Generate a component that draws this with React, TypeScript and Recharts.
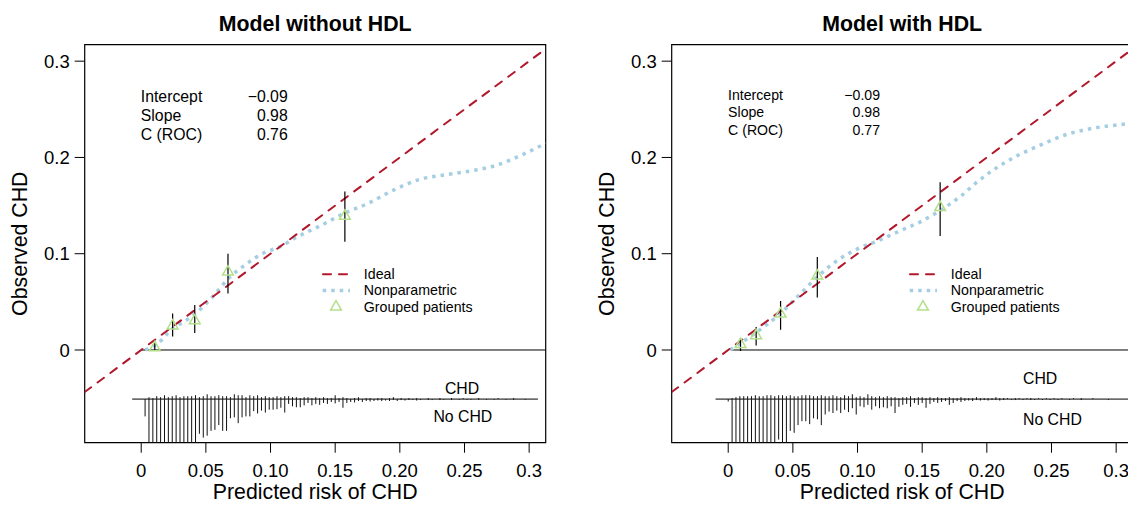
import React from 'react';
import { ComposedChart, XAxis, YAxis, Line, Scatter, ReferenceLine, ReferenceArea } from 'recharts';

const FONT = '"Liberation Sans", Arial, Helvetica, sans-serif';
const RED = '#b2182b';
const BLUE = '#a6cee3';
const GREEN = '#b2df8a';

const X_DOMAIN: [number, number] = [-0.0437, 0.3128];
const Y_DOMAIN: [number, number] = [-0.0963, 0.3171];
const xTicks = [0, 0.05, 0.1, 0.15, 0.2, 0.25, 0.3];
const xTickLabels = ['0', '0.05', '0.10', '0.15', '0.20', '0.25', '0.3'];
const yTicks = [0, 0.1, 0.2, 0.3];
const yTickLabels = ['0', '0.1', '0.2', '0.3'];

const idealX = [-0.0437, 0.3128];
const idealY = [-0.0437, 0.3128];

// Left panel: model without HDL
const leftNpX = [0.003, 0.013, 0.024, 0.035, 0.043, 0.055, 0.068, 0.08, 0.095, 0.107, 0.12, 0.14, 0.157, 0.175, 0.195, 0.215, 0.235, 0.255, 0.275, 0.295, 0.3128];
const leftNpY = [0.0, 0.007, 0.022, 0.031, 0.039, 0.055, 0.075, 0.088, 0.101, 0.107, 0.117, 0.13, 0.142, 0.152, 0.166, 0.177, 0.182, 0.186, 0.192, 0.203, 0.2147];
const leftGroupX = [0.0105, 0.0243, 0.0414, 0.0671, 0.1575];
const leftGroupY = [0.003, 0.0256, 0.0309, 0.0815, 0.1396];
const leftGroupLo = [-0.001, 0.014, 0.0176, 0.0588, 0.1123];
const leftGroupHi = [0.008, 0.0378, 0.0466, 0.1, 0.1647];

// Right panel: model with HDL
const rightNpX = [0.0015, 0.0105, 0.0225, 0.0405, 0.0555, 0.069, 0.0855, 0.1, 0.115, 0.135, 0.15, 0.164, 0.18, 0.193, 0.205, 0.221, 0.24, 0.262, 0.285, 0.307, 0.3128];
const rightNpY = [0.0, 0.008, 0.019, 0.038, 0.058, 0.076, 0.094, 0.105, 0.113, 0.125, 0.134, 0.145, 0.16, 0.175, 0.187, 0.2, 0.212, 0.224, 0.231, 0.2348, 0.236];
const rightGroupX = [0.0095, 0.0216, 0.0405, 0.0689, 0.1639];
const rightGroupY = [0.0064, 0.0155, 0.0379, 0.0774, 0.1486];
const rightGroupLo = [-0.001, 0.0047, 0.021, 0.0546, 0.1185];
const rightGroupHi = [0.012, 0.0239, 0.051, 0.0966, 0.1743];

// Spike histogram bins and heights
const spikeBins = [
  0, 0.003, 0.006, 0.009, 0.012, 0.015, 0.018, 0.021, 0.024, 0.027,
  0.03, 0.033, 0.036, 0.039, 0.042, 0.045, 0.048, 0.051, 0.054, 0.057,
  0.06, 0.063, 0.066, 0.069, 0.072, 0.075, 0.078, 0.081, 0.084, 0.087,
  0.09, 0.093, 0.096, 0.099, 0.102, 0.105, 0.108, 0.111, 0.114, 0.117,
  0.12, 0.123, 0.126, 0.129, 0.132, 0.135, 0.138, 0.141, 0.144, 0.147,
  0.15, 0.153, 0.156, 0.159, 0.162, 0.165, 0.168, 0.171, 0.174, 0.177,
  0.18, 0.183, 0.186, 0.189, 0.192, 0.195, 0.198, 0.201, 0.204, 0.207,
  0.21, 0.213, 0.216, 0.219, 0.222, 0.225, 0.228, 0.231, 0.234, 0.237,
  0.24, 0.243, 0.246, 0.249, 0.252, 0.255, 0.258, 0.261, 0.264, 0.267,
  0.27, 0.273, 0.276, 0.279, 0.282, 0.285, 0.288, 0.291, 0.294, 0.297,
  0.3,
];
const leftNoChd = [
  0, 0.018, 0.085, 0.11, 0.12, 0.13, 0.12, 0.125, 0.11, 0.105,
  0.1, 0.09, 0.085, 0.075, 0.06, 0.036, 0.04, 0.038, 0.033, 0.032,
  0.027, 0.033, 0.033, 0.02, 0.019, 0.025, 0.019, 0.018, 0.018, 0.0125,
  0.015, 0.012, 0.014, 0.011, 0.011, 0.0105, 0.009, 0.014, 0.005, 0.0075,
  0.0085, 0.0085, 0.0065, 0.004, 0.0065, 0.005, 0.006, 0.004, 0.005, 0.003,
  0.0045, 0.003, 0.009, 0.004, 0.003, 0.0035, 0.002, 0.003, 0.002, 0.0025,
  0.002, 0.0015, 0.002, 0.0015, 0.002, 0.001, 0.002, 0.001, 0.0015, 0.001,
  0.001, 0.0015, 0.001, 0, 0.001, 0.001, 0, 0.001, 0.0008, 0,
  0.001, 0, 0.0008, 0, 0.0008, 0.0008, 0, 0.0008, 0, 0.0008,
  0, 0.0008, 0, 0, 0.0008, 0, 0.0008, 0, 0, 0.0008,
  0,
];
const leftChd = [
  0, 0, 0.002, 0.001, 0.003, 0.002, 0.004, 0.002, 0.003, 0.004,
  0.002, 0.003, 0.003, 0.003, 0.004, 0.002, 0.003, 0.005, 0.003, 0.003,
  0.004, 0.003, 0.003, 0.002, 0.005, 0.004, 0.004, 0.002, 0.004, 0.003,
  0.004, 0.002, 0.003, 0.002, 0.002, 0.003, 0.002, 0.003, 0.003, 0.002,
  0.002, 0.001, 0.002, 0.002, 0.001, 0.002, 0.001, 0.002, 0.001, 0.001,
  0.004, 0.001, 0.002, 0.001, 0, 0.001, 0.002, 0, 0.001, 0.001,
  0, 0.001, 0.001, 0, 0.001, 0.002, 0, 0.001, 0, 0.001,
  0, 0.001, 0, 0, 0.001, 0, 0, 0.001, 0, 0,
  0.001, 0, 0, 0.001, 0, 0, 0, 0.001, 0, 0,
  0, 0, 0.001, 0, 0, 0, 0.001, 0, 0, 0,
  0,
];
const rightNoChd = [
  0.0025, 0.09, 0.11, 0.12, 0.13, 0.12, 0.12, 0.11, 0.1, 0.1,
  0.09, 0.085, 0.07, 0.042, 0.06, 0.05, 0.033, 0.035, 0.027, 0.023,
  0.023, 0.026, 0.02, 0.021, 0.027, 0.016, 0.013, 0.0145, 0.012, 0.0145,
  0.011, 0.0135, 0.0095, 0.016, 0.0075, 0.0085, 0.006, 0.011, 0.0075, 0.0095,
  0.0085, 0.0095, 0.0075, 0.0145, 0.008, 0.006, 0.005, 0.008, 0.004, 0.006,
  0.004, 0.009, 0.005, 0.003, 0.004, 0.003, 0.002, 0.006, 0.004, 0.002,
  0.003, 0.002, 0.0015, 0.002, 0.001, 0.0015, 0.001, 0.0015, 0.001, 0.001,
  0.0015, 0.001, 0, 0.001, 0.001, 0, 0.001, 0, 0.001, 0.001,
  0, 0.001, 0, 0.001, 0, 0.001, 0, 0, 0.001, 0,
  0, 0.001, 0, 0, 0, 0, 0, 0, 0.001, 0,
  0,
];
const rightChd = [
  0, 0.001, 0.002, 0.003, 0.003, 0.003, 0.003, 0.004, 0.003, 0.003,
  0.004, 0.004, 0.003, 0.004, 0.004, 0.003, 0.004, 0.003, 0.003, 0.004,
  0.004, 0.004, 0.003, 0.003, 0.004, 0.003, 0.003, 0.004, 0.003, 0.002,
  0.004, 0.003, 0.005, 0.002, 0.003, 0.002, 0.005, 0.003, 0.002, 0.003,
  0.002, 0.003, 0.002, 0.002, 0.001, 0.002, 0.002, 0.003, 0.001, 0.002,
  0.002, 0.001, 0.002, 0.001, 0.002, 0.001, 0.001, 0.002, 0.001, 0.001,
  0.002, 0.001, 0.001, 0.001, 0.002, 0.001, 0.001, 0.001, 0.001, 0.002,
  0.001, 0.001, 0.001, 0, 0.001, 0.001, 0, 0.001, 0.001, 0,
  0.001, 0, 0.001, 0, 0.001, 0, 0.001, 0, 0, 0.001,
  0, 0.001, 0, 0, 0.001, 0, 0, 0, 0, 0,
  0,
];

const SPIKE_BASE = -0.051;
const leftBaseline = [-0.007, 0.3068];
const rightBaseline = [-0.0098, 0.31];
const leftZeroStart = 0.0;
const rightZeroStart = 0.002;

const statLabels = ['Intercept', 'Slope', 'C (ROC)'];
const leftStats = ['\u22120.09', '0.98', '0.76'];
const rightStats = ['\u22120.09', '0.98', '0.77'];
const legendLabels = ['Ideal', 'Nonparametric', 'Grouped patients'];

const zip = (xs: number[], ys: number[]) => xs.map((x, i) => ({ x, y: ys[i] }));

const Tri = (p: any) => {
  const { cx, cy } = p;
  if (cx == null || cy == null) return null;
  return (
    <polygon
      points={`${cx},${cy - 5.8} ${cx - 5.4},${cy + 3.6} ${cx + 5.4},${cy + 3.6}`}
      fill="none"
      stroke={GREEN}
      strokeWidth={1.5}
    />
  );
};

type PanelProps = {
  left: number;
  title: string;
  npX: number[];
  npY: number[];
  gX: number[];
  gY: number[];
  gLo: number[];
  gHi: number[];
  noChd: number[];
  chd: number[];
  baseline: number[];
  zeroStart: number;
  stats: string[];
  statFont: number;
  statLabelX: number;
  statValueX: number;
  statY: number[];
  chdLabel: { x: number; y: number; anchor: string };
  noChdLabel: { x: number; y: number; anchor: string };
};

const W = 587;
const H = 505;
const PLOT_L = 84.7;
const PLOT_R = 545.7;
const PLOT_T = 44.7;
const PLOT_B = 442.7;
const CX = (PLOT_L + PLOT_R) / 2;
const CY = (PLOT_T + PLOT_B) / 2;

function Panel(props: PanelProps) {
  const npData = zip(props.npX, props.npY);
  const idealData = zip(idealX, idealY);
  const groupData = zip(props.gX, props.gY);
  const legendRows = [274.2, 290.4, 306.5];
  return (
    <div style={{ position: 'absolute', left: props.left, top: 0, width: W, height: H }}>
      <ComposedChart width={W} height={H} margin={{ top: PLOT_T, right: W - PLOT_R, bottom: 0, left: 0 }}>
        <XAxis
          dataKey="x"
          type="number"
          domain={X_DOMAIN}
          allowDataOverflow
          ticks={xTicks}
          interval={0}
          tickFormatter={(v: number) => xTickLabels[xTicks.indexOf(v)] ?? String(v)}
          tickSize={10}
          tickMargin={11}
          axisLine={false}
          tickLine={{ stroke: '#000', strokeWidth: 1 }}
          tick={{ fill: '#000', fontSize: 18.5, fontFamily: FONT }}
          height={H - PLOT_B}
        />
        <YAxis
          dataKey="y"
          type="number"
          domain={Y_DOMAIN}
          allowDataOverflow
          ticks={yTicks}
          interval={0}
          tickFormatter={(v: number) => yTickLabels[yTicks.indexOf(v)] ?? String(v)}
          tickSize={10}
          tickMargin={5}
          axisLine={false}
          tickLine={{ stroke: '#000', strokeWidth: 1 }}
          tick={{ fill: '#000', fontSize: 18.5, fontFamily: FONT }}
          width={PLOT_L}
        />
        <ReferenceLine
          segment={[{ x: props.zeroStart, y: 0 }, { x: X_DOMAIN[1], y: 0 }]}
          stroke="#000"
          strokeWidth={1}
          ifOverflow="hidden"
        />
        <ReferenceLine
          segment={[{ x: props.baseline[0], y: SPIKE_BASE }, { x: props.baseline[1], y: SPIKE_BASE }]}
          stroke="#000"
          strokeWidth={1}
          ifOverflow="hidden"
        />
        {spikeBins.map((b, i) =>
          props.noChd[i] > 0 ? (
            <ReferenceLine
              key={'n' + i}
              segment={[{ x: b, y: SPIKE_BASE }, { x: b, y: SPIKE_BASE - props.noChd[i] }]}
              stroke="#111"
              strokeWidth={1}
              ifOverflow="hidden"
            />
          ) : null
        )}
        {spikeBins.map((b, i) =>
          props.chd[i] > 0 ? (
            <ReferenceLine
              key={'c' + i}
              segment={[{ x: b, y: SPIKE_BASE }, { x: b, y: SPIKE_BASE + props.chd[i] }]}
              stroke="#111"
              strokeWidth={1}
              ifOverflow="hidden"
            />
          ) : null
        )}
        <Line
          data={npData}
          dataKey="y"
          type="monotone"
          stroke={BLUE}
          strokeWidth={3.5}
          strokeDasharray="3.5 5"
          dot={false}
          activeDot={false}
          isAnimationActive={false}
        />
        <Line
          data={idealData}
          dataKey="y"
          type="linear"
          stroke={RED}
          strokeWidth={2}
          strokeDasharray="8 8"
          strokeLinecap="round"
          dot={false}
          activeDot={false}
          isAnimationActive={false}
        />
        {props.gX.map((x, i) => (
          <ReferenceLine
            key={'e' + i}
            segment={[{ x, y: props.gLo[i] }, { x, y: props.gHi[i] }]}
            stroke="#000"
            strokeWidth={1.2}
            ifOverflow="hidden"
          />
        ))}
        <Scatter data={groupData} shape={Tri} isAnimationActive={false} />
        <ReferenceArea
          x1={X_DOMAIN[0]}
          x2={X_DOMAIN[1]}
          y1={Y_DOMAIN[0]}
          y2={Y_DOMAIN[1]}
          fill="none"
          stroke="#000"
          strokeWidth={1.2}
          ifOverflow="visible"
        />
      </ComposedChart>
      <svg width={W} height={H} style={{ position: 'absolute', left: 0, top: 0, pointerEvents: 'none' }}>
        <text x={CX} y={31} textAnchor="middle" fontFamily={FONT} fontWeight="bold" fontSize={21.3} fill="#000">
          {props.title}
        </text>
        <text x={CX} y={499} textAnchor="middle" fontFamily={FONT} fontSize={21.3} fill="#000">
          Predicted risk of CHD
        </text>
        <text
          x={0}
          y={0}
          transform={`translate(27, ${CY}) rotate(-90)`}
          textAnchor="middle"
          fontFamily={FONT}
          fontSize={21.3}
          fill="#000"
        >
          Observed CHD
        </text>
        {statLabels.map((s, i) => (
          <text key={'sl' + i} x={props.statLabelX} y={props.statY[i]} fontFamily={FONT} fontSize={props.statFont} fill="#000">
            {s}
          </text>
        ))}
        {props.stats.map((s, i) => (
          <text
            key={'sv' + i}
            x={props.statValueX}
            y={props.statY[i]}
            textAnchor="end"
            fontFamily={FONT}
            fontSize={props.statFont}
            fill="#000"
          >
            {s}
          </text>
        ))}
        <line x1={323} y1={legendRows[0]} x2={348.5} y2={legendRows[0]} stroke={RED} strokeWidth={2} strokeDasharray="8 8" strokeLinecap="round" />
        <line x1={322.7} y1={legendRows[1]} x2={350} y2={legendRows[1]} stroke={BLUE} strokeWidth={3.5} strokeDasharray="3.5 5" />
        <polygon
          points={`336,${legendRows[2] - 5.8} ${336 - 5.4},${legendRows[2] + 3.6} ${336 + 5.4},${legendRows[2] + 3.6}`}
          fill="none"
          stroke={GREEN}
          strokeWidth={1.5}
        />
        {legendLabels.map((s, i) => (
          <text key={'lg' + i} x={363.8} y={legendRows[i] + 5} fontFamily={FONT} fontSize={14.2} fill="#000">
            {s}
          </text>
        ))}
        <text x={props.chdLabel.x} y={props.chdLabel.y} textAnchor={props.chdLabel.anchor as any} fontFamily={FONT} fontSize={15.8} fill="#000">
          CHD
        </text>
        <text x={props.noChdLabel.x} y={props.noChdLabel.y} textAnchor={props.noChdLabel.anchor as any} fontFamily={FONT} fontSize={15.8} fill="#000">
          No CHD
        </text>
      </svg>
    </div>
  );
}

export default function App() {
  return (
    <div
      style={{
        position: 'fixed',
        left: 0,
        top: 0,
        width: 1128,
        height: 505,
        overflow: 'hidden',
        background: '#fff',
        fontFamily: FONT,
      }}
    >
      <Panel
        left={0}
        title="Model without HDL"
        npX={leftNpX}
        npY={leftNpY}
        gX={leftGroupX}
        gY={leftGroupY}
        gLo={leftGroupLo}
        gHi={leftGroupHi}
        noChd={leftNoChd}
        chd={leftChd}
        baseline={leftBaseline}
        zeroStart={leftZeroStart}
        stats={leftStats}
        statFont={15.8}
        statLabelX={140.8}
        statValueX={287.7}
        statY={[101.5, 120.7, 139.5]}
        chdLabel={{ x: 462, y: 393.6, anchor: 'middle' }}
        noChdLabel={{ x: 462.8, y: 421.5, anchor: 'middle' }}
      />
      <Panel
        left={587}
        title="Model with HDL"
        npX={rightNpX}
        npY={rightNpY}
        gX={rightGroupX}
        gY={rightGroupY}
        gLo={rightGroupLo}
        gHi={rightGroupHi}
        noChd={rightNoChd}
        chd={rightChd}
        baseline={rightBaseline}
        zeroStart={rightZeroStart}
        stats={rightStats}
        statFont={14.1}
        statLabelX={141.1}
        statValueX={293}
        statY={[100, 117.3, 134.6]}
        chdLabel={{ x: 436, y: 383.5, anchor: 'start' }}
        noChdLabel={{ x: 436, y: 425, anchor: 'start' }}
      />
    </div>
  );
}
